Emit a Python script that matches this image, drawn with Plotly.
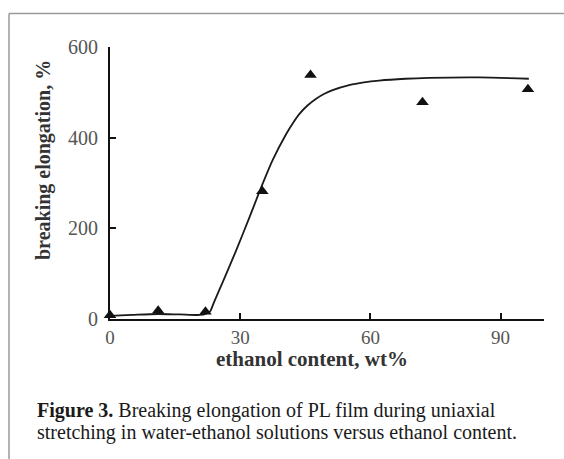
import plotly.graph_objects as go

# Measured data points (triangles)
ethanol_pts = [0, 11.1, 22.0, 35.1, 46.2, 72.0, 96.3]
elong_pts = [8, 18, 16, 282, 538, 478, 507]

# Fitted curve
curve_x = [0, 5, 11, 16, 20.7, 22.2, 23, 24, 26, 29.1, 32.2, 35.2, 37.5, 40.6, 42.2, 43.6, 45.5, 47.5, 49.4, 51.3, 55.1, 58.5, 62, 68, 73.5, 85, 96.5]
curve_y = [7, 9, 11, 10, 9, 12, 16, 38, 82, 152, 226, 299, 351, 408, 433, 452, 471, 486, 497, 505, 516, 522, 526, 530, 532, 533, 530]

x_ticks = [0, 30, 60, 90]
y_ticks = [0, 200, 400, 600]

x_title = "ethanol content, wt%"
y_title = "breaking elongation, %"
caption1 = "<b>Figure 3.</b> Breaking elongation of PL film during uniaxial"
caption2 = "stretching in water-ethanol solutions versus ethanol content."

SERIF = "Liberation Serif, Times New Roman, serif"

fig = go.Figure()
fig.add_trace(go.Scatter(x=curve_x, y=curve_y, mode="lines",
                         line=dict(color="#1a1a1a", width=1.8, shape="spline", smoothing=0.8),
                         hoverinfo="skip", showlegend=False))
fig.add_trace(go.Scatter(x=ethanol_pts, y=elong_pts, mode="markers",
                         marker=dict(symbol="triangle-up", size=11, color="#111111"),
                         showlegend=False, cliponaxis=False))

L, R, T, B = 110, 20, 47, 140
W, H = 564, 459
pw, ph = W - L - R, H - T - B

def px(xp):
    return (xp - L) / pw

def py(yp):
    return (H - B - yp) / ph

fig.update_layout(
    width=W, height=H,
    margin=dict(l=L, r=R, t=T, b=B),
    paper_bgcolor="white", plot_bgcolor="white",
    font=dict(family=SERIF, color="#444444"),
    xaxis=dict(range=[0, 100], tickvals=x_ticks, ticktext=[str(v) for v in x_ticks],
               showgrid=False, zeroline=False, showline=True, linecolor="#111111", linewidth=2,
               ticks="inside", ticklen=6, tickwidth=1.5, tickcolor="#111111",
               ticklabelstandoff=0,
               tickfont=dict(size=19, color="#555555", family=SERIF)),
    yaxis=dict(range=[0, 600], tickvals=y_ticks, ticktext=[str(v) for v in y_ticks],
               showgrid=False, zeroline=False, showline=True, linecolor="#111111", linewidth=2,
               ticks="inside", ticklen=6, tickwidth=1.5, tickcolor="#111111",
               ticklabelstandoff=6,
               tickfont=dict(size=20, color="#555555", family=SERIF)),
)

# frame border (top and left visible)
fig.add_shape(type="line", xref="paper", yref="paper", x0=px(9), x1=px(600), y0=py(13.5), y1=py(13.5),
              line=dict(color="#9a9a9a", width=1.5))
fig.add_shape(type="line", xref="paper", yref="paper", x0=px(9), x1=px(9), y0=py(13.5), y1=py(500),
              line=dict(color="#9a9a9a", width=1.5))

fig.add_annotation(text="<b>" + x_title + "</b>", xref="paper", yref="paper",
                   x=px(312), y=py(359), xanchor="center", yanchor="middle", showarrow=False,
                   font=dict(size=21, color="#333333", family=SERIF))
fig.add_annotation(text="<b>" + y_title + "</b>", xref="paper", yref="paper",
                   x=px(43), y=py(160), xanchor="center", yanchor="middle", showarrow=False,
                   textangle=-90, font=dict(size=20, color="#333333", family=SERIF))
fig.add_annotation(text=caption1, xref="paper", yref="paper",
                   x=px(35), y=py(410), xanchor="left", yanchor="middle", showarrow=False,
                   font=dict(size=20, color="#1a1a1a", family=SERIF))
fig.add_annotation(text=caption2, xref="paper", yref="paper",
                   x=px(35), y=py(432), xanchor="left", yanchor="middle", showarrow=False,
                   font=dict(size=20, color="#1a1a1a", family=SERIF))

fig.write_html("out.html")
